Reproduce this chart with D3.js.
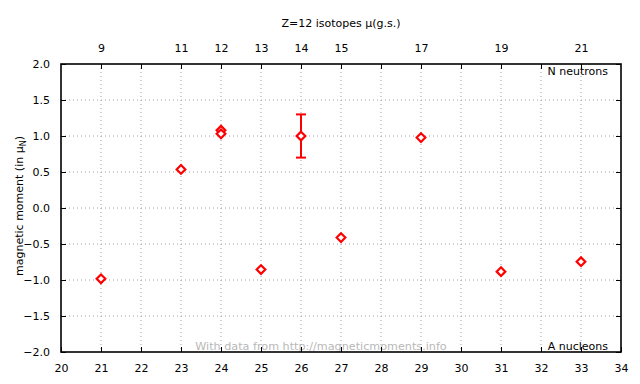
<!DOCTYPE html>
<html><head><meta charset="utf-8">
<script src="https://cdn.jsdelivr.net/npm/d3@7"></script>
<style>body{margin:0;background:#fff}text{font-family:"DejaVu Sans",Verdana,sans-serif}</style>
</head><body><svg id="c" width="640" height="384"></svg>
<script>
const massNumbers = [21, 23, 24, 24, 25, 26, 27, 29, 31, 33];
const moments = [-0.983, 0.536, 1.08, 1.03, -0.855, 1.0, -0.411, 0.978, -0.884, -0.746];
const errors = [0, 0, 0, 0, 0, 0.3, 0, 0, 0, 0];
const neutronTicks = [9, 11, 12, 13, 14, 15, 17, 19, 21];
const Z = 12;
const xTicks = d3.range(20, 35, 1);
const yTicks = [-2.0, -1.5, -1.0, -0.5, 0.0, 0.5, 1.0, 1.5, 2.0];

const svg = d3.select("#c");
const m = {l: 61, r: 19, t: 64, b: 32};
const W = 640, H = 384;
const FS = 11;
const x = d3.scaleLinear().domain([20, 34]).range([m.l, W - m.r]);
const y = d3.scaleLinear().domain([-2, 2]).range([H - m.b, m.t]);

// grid
const g = svg.append("g");
g.selectAll(".vg").data(d3.range(21, 34)).join("line")
  .attr("x1", d => x(d)).attr("x2", d => x(d)).attr("y1", y(2)).attr("y2", y(-2))
  .attr("stroke", "#a0a0a0").attr("stroke-width", 1).attr("stroke-dasharray", "1,3");
g.selectAll(".hg").data(yTicks.slice(1, -1)).join("line")
  .attr("y1", d => y(d)).attr("y2", d => y(d)).attr("x1", x(20)).attr("x2", x(34))
  .attr("stroke", "#a0a0a0").attr("stroke-width", 1).attr("stroke-dasharray", "1,3");

// watermark
svg.append("text").attr("x", 321).attr("y", y(-2) - 2).attr("text-anchor", "middle")
  .attr("font-size", 11.2).attr("fill", "#b8b8b8").text("With data from http://magneticmoments.info");

// axes
const fmt = d3.format(".1f");
const axBottom = svg.append("g").attr("transform", `translate(0,${y(-2)})`)
  .call(d3.axisBottom(x).tickValues(xTicks).tickSize(-5).tickPadding(12).tickFormat(d3.format("d")));
const axLeft = svg.append("g").attr("transform", `translate(${x(20)},0)`)
  .call(d3.axisLeft(y).tickValues(yTicks).tickSize(-5).tickPadding(11).tickFormat(d => fmt(d)));
const axTop = svg.append("g").attr("transform", `translate(0,${y(2)})`)
  .call(d3.axisTop(x).tickValues(d3.range(21, 34)).tickSize(-5).tickPadding(12)
    .tickFormat(d => neutronTicks.includes(d - Z) ? String(d - Z) : ""));
const axRight = svg.append("g").attr("transform", `translate(${x(34)},0)`)
  .call(d3.axisRight(y).tickValues(yTicks).tickSize(-5).tickFormat(""));
[axBottom, axLeft, axTop, axRight].forEach(a => {
  a.select(".domain").remove();
  a.selectAll("line").attr("stroke", "#000").attr("stroke-width", 1);
  a.selectAll("text").attr("font-size", FS).attr("fill", "#000").attr("font-family", "DejaVu Sans, Verdana, sans-serif");
});
svg.append("rect").attr("x", x(20)).attr("y", y(2)).attr("width", x(34) - x(20)).attr("height", y(-2) - y(2))
  .attr("fill", "none").attr("stroke", "#000").attr("stroke-width", 1.6);

// labels
svg.append("text").attr("x", 341).attr("y", 27).attr("text-anchor", "middle").attr("font-size", FS)
  .text("Z=12 isotopes μ(g.s.)");
const yl = svg.append("text").attr("transform", `translate(23,${y(0) - 2}) rotate(-90)`).attr("text-anchor", "middle").attr("font-size", FS);
yl.append("tspan").text("magnetic moment (in μ");
yl.append("tspan").attr("font-size", 8).attr("dy", 3).text("N");
yl.append("tspan").attr("dy", -3).text(")");
svg.append("text").attr("x", x(34) - 13).attr("y", y(2) + 11).attr("text-anchor", "end").attr("font-size", FS).text("N neutrons");
svg.append("text").attr("x", x(34) - 13).attr("y", y(-2) - 2).attr("text-anchor", "end").attr("font-size", FS).text("A nucleons");

// data
const pts = massNumbers.map((a, i) => ({a, mu: moments[i], e: errors[i]}));
const red = "#ff0000";
const eb = svg.append("g");
pts.filter(d => d.e > 0).forEach(d => {
  eb.append("line").attr("x1", x(d.a)).attr("x2", x(d.a)).attr("y1", y(d.mu - d.e)).attr("y2", y(d.mu + d.e)).attr("stroke", red).attr("stroke-width", 2);
  [d.mu - d.e, d.mu + d.e].forEach(v => eb.append("line").attr("x1", x(d.a) - 5).attr("x2", x(d.a) + 5).attr("y1", y(v)).attr("y2", y(v)).attr("stroke", red).attr("stroke-width", 2));
});
const sym = d3.symbol().type(d3.symbolDiamond2).size(48);
svg.append("g").selectAll("path").data(pts).join("path")
  .attr("transform", d => `translate(${x(d.a)},${y(d.mu)})`)
  .attr("d", sym).attr("fill", "#fff").attr("stroke", red).attr("stroke-width", 2.2);
</script></body></html>
